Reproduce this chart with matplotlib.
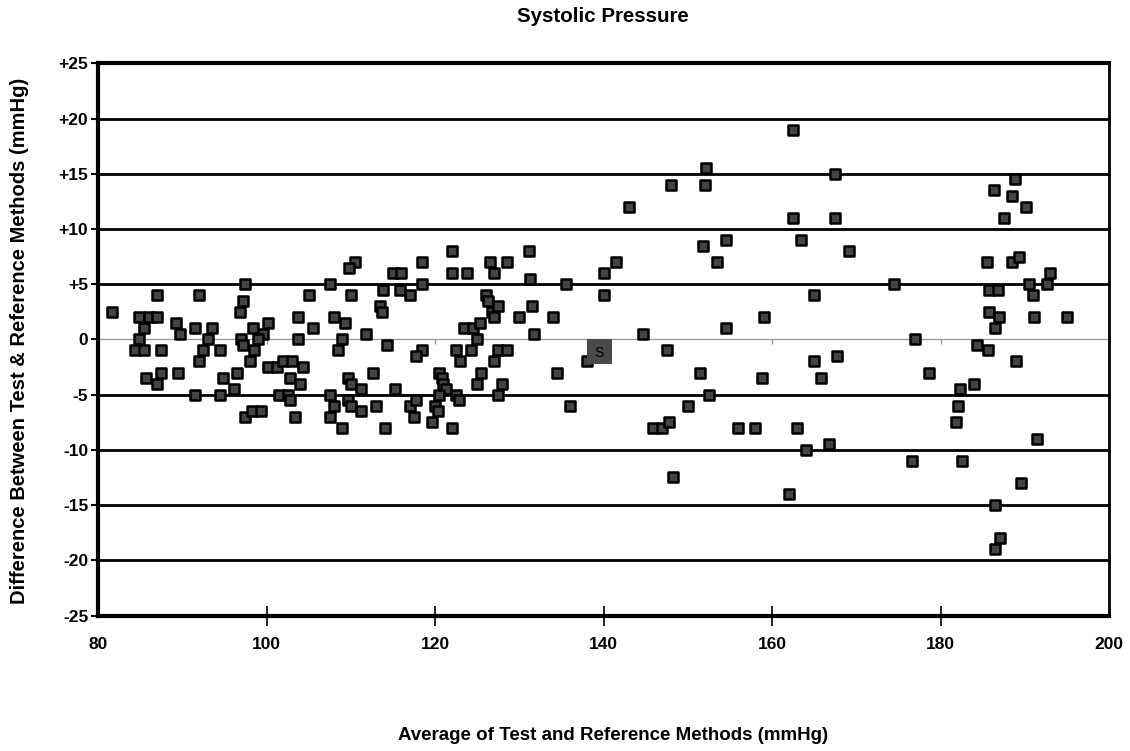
import matplotlib.pyplot as plt
import numpy as np

plt.rcParams["font.family"] = ["Liberation Sans", "DejaVu Sans"]

# average of the two methods (mmHg)
avg_mmhg = [
    81.7, 87.0, 92.0, 97.5, 97.2, 96.8, 84.9, 86.0, 87.0, 85.5,
    89.3, 89.7, 91.5, 93.5, 93.0, 92.5, 94.5, 92.0, 84.9, 84.4,
    85.5, 87.5, 85.7, 87.5, 87.0, 89.5, 94.8, 96.5, 96.2, 91.5,
    94.5, 97.4, 98.3, 99.3, 98.4, 100.2, 99.6, 99.0, 97.0, 97.2,
    98.5, 98.0, 100.2, 101.2, 102.0, 103.0, 102.8, 101.5, 102.6, 102.8,
    103.4, 103.7, 103.7,
    122.0, 110.5, 109.8, 118.5, 115.0, 116.0, 122.0, 123.8, 107.5, 118.5,
    105.0, 110.0, 113.8, 115.8, 117.0, 113.5, 113.7, 108.0, 109.3, 105.5,
    111.8, 109.0, 108.5, 114.3, 118.5, 117.7, 123.5, 122.5, 123.0, 124.3,
    104.3, 104.0, 109.7, 110.0, 111.2, 112.6, 115.2, 120.5, 120.8, 121.0,
    121.3, 107.5, 108.0, 109.7, 110.0, 111.2, 113.0, 117.0, 117.7, 117.5,
    107.5, 109.0, 114.1, 120.5, 120.0, 120.3, 119.7, 122.0, 122.5, 122.8,
    131.1, 126.5, 128.5, 127.0, 141.5, 140.1, 131.3, 135.5, 140.1, 126.0,
    126.3, 126.8, 127.5, 127.0, 131.5, 130.0, 134.0, 124.5, 125.3, 125.0,
    131.8, 127.5, 128.5, 127.0, 138.0, 125.5, 125.0, 128.0, 127.5, 134.5,
    136.0,
    162.5, 152.2, 167.5, 148.0, 152.0, 143.0, 162.5, 167.5, 154.5, 151.8,
    163.5, 153.5, 165.0, 159.0, 154.5, 144.7, 147.5, 165.0, 167.7, 151.5,
    158.8, 165.8, 152.5, 150.0, 145.9, 147.0, 147.8, 156.0, 158.0, 163.0,
    164.0, 166.8, 148.3, 162.0,
    169.1, 174.5, 177.0, 188.8, 186.3, 188.5, 190.1, 187.5, 185.5, 188.5,
    189.3, 193.0, 185.8, 186.8, 190.5, 192.6, 191.0, 185.8, 187.0, 191.1,
    195.0, 186.5, 184.3, 185.6, 189.0, 178.6, 184.0, 182.3, 182.1, 181.8,
    191.5, 176.6, 182.6, 189.6, 186.5, 187.1, 186.5,
]

# difference test - reference (mmHg)
diff_mmhg = [
    2.5, 4.0, 4.0, 5.0, 3.5, 2.5, 2.0, 2.0, 2.0, 1.0,
    1.5, 0.5, 1.0, 1.0, 0.0, -1.0, -1.0, -2.0, 0.0, -1.0,
    -1.0, -1.0, -3.5, -3.0, -4.0, -3.0, -3.5, -3.0, -4.5, -5.0,
    -5.0, -7.0, -6.5, -6.5, 1.0, 1.5, 0.5, 0.0, 0.0, -0.5,
    -1.0, -2.0, -2.5, -2.5, -2.0, -2.0, -3.5, -5.0, -5.0, -5.5,
    -7.0, 2.0, 0.0,
    8.0, 7.0, 6.5, 7.0, 6.0, 6.0, 6.0, 6.0, 5.0, 5.0,
    4.0, 4.0, 4.5, 4.5, 4.0, 3.0, 2.5, 2.0, 1.5, 1.0,
    0.5, 0.0, -1.0, -0.5, -1.0, -1.5, 1.0, -1.0, -2.0, -1.0,
    -2.5, -4.0, -3.5, -4.0, -4.5, -3.0, -4.5, -3.0, -3.5, -4.0,
    -4.5, -5.0, -6.0, -5.5, -6.0, -6.5, -6.0, -6.0, -5.5, -7.0,
    -7.0, -8.0, -8.0, -5.0, -6.0, -6.5, -7.5, -8.0, -5.0, -5.5,
    8.0, 7.0, 7.0, 6.0, 7.0, 6.0, 5.5, 5.0, 4.0, 4.0,
    3.5, 2.5, 3.0, 2.0, 3.0, 2.0, 2.0, 1.0, 1.5, 0.0,
    0.5, -1.0, -1.0, -2.0, -2.0, -3.0, -4.0, -4.0, -5.0, -3.0,
    -6.0,
    19.0, 15.5, 15.0, 14.0, 14.0, 12.0, 11.0, 11.0, 9.0, 8.5,
    9.0, 7.0, 4.0, 2.0, 1.0, 0.5, -1.0, -2.0, -1.5, -3.0,
    -3.5, -3.5, -5.0, -6.0, -8.0, -8.0, -7.5, -8.0, -8.0, -8.0,
    -10.0, -9.5, -12.5, -14.0,
    8.0, 5.0, 0.0, 14.5, 13.5, 13.0, 12.0, 11.0, 7.0, 7.0,
    7.5, 6.0, 4.5, 4.5, 5.0, 5.0, 4.0, 2.5, 2.0, 2.0,
    2.0, 1.0, -0.5, -1.0, -2.0, -3.0, -4.0, -4.5, -6.0, -7.5,
    -9.0, -11.0, -11.0, -13.0, -15.0, -18.0, -19.0,
]

# the single point marked "S"
s_avg = [139.5]
s_diff = [-1.1]

x_ticks = [80, 100, 120, 140, 160, 180, 200]
y_ticks = [25, 20, 15, 10, 5, 0, -5, -10, -15, -20, -25]
y_labels = ["+25", "+20", "+15", "+10", "+5", "0", "-5", "-10", "-15", "-20", "-25"]

fig = plt.figure(figsize=(11.3, 7.51), dpi=100)
ax = fig.add_axes([98 / 1130, 1 - 615.5 / 751, (1109 - 98) / 1130, (615.5 - 63.3) / 751])

ax.set_xlim(80, 200)
ax.set_ylim(-25, 25)

# horizontal reference lines
for yv in y_ticks:
    if yv == 0:
        ax.axhline(yv, color="#9a9a9a", lw=1.0, zorder=1)
    elif abs(yv) < 25:
        ax.axhline(yv, color="black", lw=2.0, zorder=1)

# little ticks hanging under the zero line
inner = x_ticks[1:-1]
ax.vlines(inner, -0.45, 0, color="#9a9a9a", lw=1.0, zorder=1)

ax.scatter(avg_mmhg, diff_mmhg, marker="s", s=62, facecolor="#444444",
           edgecolor="black", linewidths=1.8, zorder=3)

ax.scatter(s_avg, s_diff, marker="s", s=330, facecolor="#4a4a4a",
           edgecolor="none", zorder=3)
for xs, ys in zip(s_avg, s_diff):
    ax.text(xs, ys - 0.1, "S", ha="center", va="center", fontsize=10,
            color="black", zorder=4)

for side in ["left", "bottom", "top"]:
    ax.spines[side].set_linewidth(3)
ax.spines["right"].set_linewidth(2)

ax.set_xticks(x_ticks)
ax.set_xticklabels([str(v) for v in x_ticks], fontsize=12.5, fontweight="bold")
ax.tick_params(axis="x", direction="inout", length=15, width=1.2, pad=8)
# no tick marks at the two corners
for t in (ax.xaxis.get_major_ticks()[0], ax.xaxis.get_major_ticks()[-1]):
    t.tick1line.set_visible(False)

ax.set_yticks(y_ticks)
ax.set_yticklabels(y_labels, fontsize=12.5, fontweight="bold")
ax.tick_params(axis="y", length=5, width=1.5, pad=2)

fig.text(603 / 1130, 1 - 16 / 751, "Systolic Pressure", ha="center", va="center",
         fontsize=14.8, fontweight="bold")
fig.text(613 / 1130, 1 - 736 / 751, "Average of Test and Reference Methods (mmHg)",
         ha="center", va="center", fontsize=13.5, fontweight="bold")
fig.text(20 / 1130, 1 - 341 / 751, "Difference Between Test & Reference Methods (mmHg)",
         ha="center", va="center", rotation=90, fontsize=14.5, fontweight="bold")

fig.savefig("out.png", dpi=100, facecolor="white")
